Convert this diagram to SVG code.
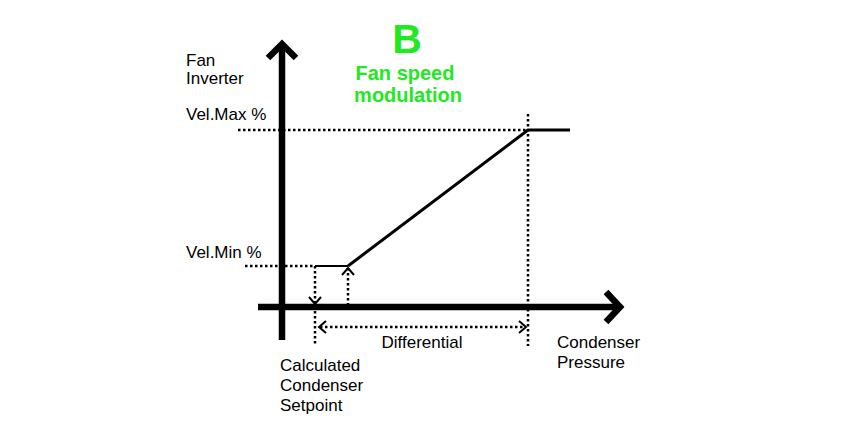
<svg xmlns="http://www.w3.org/2000/svg" width="850" height="425" viewBox="0 0 850 425">
<style>
.t{font-family:"Liberation Sans",Arial,sans-serif;font-size:17px;fill:#000}
.g{font-family:"Liberation Sans",Arial,sans-serif;font-weight:bold;fill:#22e822}
.axis{stroke:#000;stroke-width:6.5;fill:none}
.dot{stroke:#000;stroke-width:2.5;stroke-dasharray:2.5 2.5;fill:none}
.ln{stroke:#000;stroke-width:3;fill:none}
.chev{stroke:#000;stroke-width:2;fill:none}
</style>
<rect width="850" height="425" fill="#fff"/>
<g id="connectors">
<line class="axis" x1="282" y1="44" x2="282" y2="340"/>
<polyline class="axis" points="268,58 282,44 296,58"/>
<line class="axis" x1="258" y1="307" x2="620" y2="307"/>
<polyline class="axis" points="606,292 620,307 606,322"/>
<line class="dot" x1="238" y1="130" x2="528" y2="130"/>
<line class="dot" x1="245" y1="266" x2="315" y2="266"/>
<line class="dot" x1="528" y1="114" x2="528" y2="346"/>
<line class="dot" x1="315" y1="266" x2="315" y2="346"/>
<line class="dot" x1="348" y1="268" x2="348" y2="307"/>
<line class="chev" x1="315" y1="266" x2="348" y2="266"/>
<polyline class="ln" points="348,266 528,130 570,130"/>
<polyline class="chev" points="309,297 315,304 321,297"/>
<polyline class="chev" points="342,275 348,268 354,275"/>
<line class="dot" x1="320" y1="327" x2="525" y2="327"/>
<polyline class="chev" points="326,321 319,327 326,333"/>
<polyline class="chev" points="519,321 526,327 519,333"/>
</g>
<g id="title">
<text class="g" x="407" y="53" font-size="41" text-anchor="middle">B</text>
<text class="g" x="405" y="80" font-size="20" text-anchor="middle">Fan speed</text>
<text class="g" x="408" y="102" font-size="20" text-anchor="middle">modulation</text>
</g>
<g id="y-label">
<text class="t" x="186" y="66">Fan</text>
<text class="t" x="186" y="84">Inverter</text>
</g>
<g id="vel-max"><text class="t" x="186" y="120">Vel.Max %</text></g>
<g id="vel-min"><text class="t" x="186" y="258">Vel.Min %</text></g>
<g id="differential"><text class="t" x="422" y="348" text-anchor="middle">Differential</text></g>
<g id="x-label">
<text class="t" x="557" y="348">Condenser</text>
<text class="t" x="557" y="368">Pressure</text>
</g>
<g id="setpoint">
<text class="t" x="280" y="371">Calculated</text>
<text class="t" x="280" y="391">Condenser</text>
<text class="t" x="280" y="411">Setpoint</text>
</g>
</svg>
